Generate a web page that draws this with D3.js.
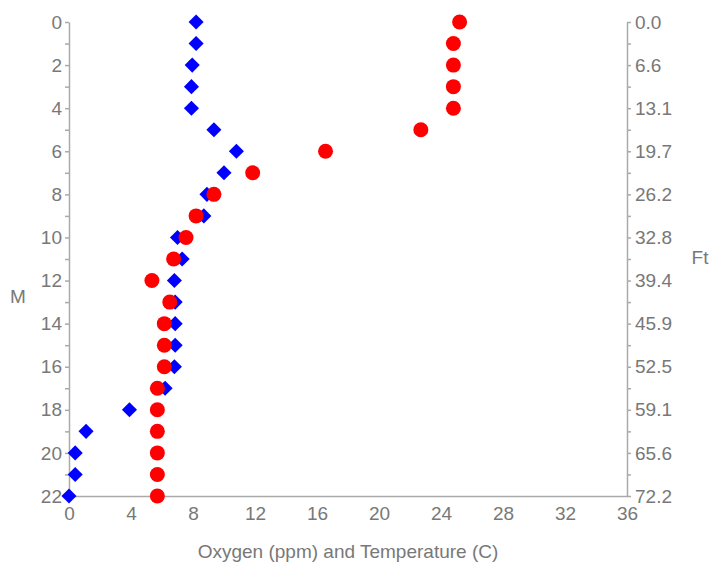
<!DOCTYPE html>
<html>
<head>
<meta charset="utf-8">
<script src="https://cdn.jsdelivr.net/npm/d3@7"></script>
<style>
  body { margin: 0; background: #fff; }
  .axis text { font-family: "Liberation Sans", Arial, sans-serif; font-size: 19px; fill: #787878; }
  .axis path, .axis line { stroke: #aaa; stroke-width: 1.5; }
  .label { font-family: "Liberation Sans", Arial, sans-serif; font-size: 19px; fill: #787878; }
</style>
</head>
<body>
<div id="chart"></div>
<script>
// depth in metres, one reading per metre
const depths = d3.range(0, 23);
const oxygen = [8.2, 8.2, 7.95, 7.9, 7.9, 9.35, 10.8, 10.0, 8.9, 8.7, 7.0, 7.3, 6.8, 6.85, 6.85, 6.85, 6.8, 6.2, 3.9, 1.1, 0.4, 0.4, 0.0];
const temperature = [25.2, 24.8, 24.8, 24.8, 24.8, 22.7, 16.55, 11.85, 9.35, 8.2, 7.55, 6.75, 5.35, 6.5, 6.15, 6.15, 6.15, 5.7, 5.7, 5.7, 5.7, 5.7, 5.7];
const xTicks = [0, 4, 8, 12, 16, 20, 24, 28, 32, 36];
const FT_PER_M = 3.28084;

const width = 713, height = 566;
const margin = { top: 22, right: 86, bottom: 70, left: 69 };

const svg = d3.select("#chart").append("svg")
  .attr("width", width)
  .attr("height", height);

const x = d3.scaleLinear().domain([0, 36]).range([margin.left, width - margin.right]);
const y = d3.scaleLinear().domain([0, 22]).range([margin.top, height - margin.bottom]);

// bottom axis, labels only
svg.append("g")
  .attr("class", "axis")
  .attr("transform", `translate(0,${y(22)})`)
  .call(d3.axisBottom(x).tickValues(xTicks).tickSize(0).tickPadding(11));

// left axis in metres
svg.append("g")
  .attr("class", "axis")
  .attr("transform", `translate(${x(0)},0)`)
  .call(d3.axisLeft(y).tickValues(depths).tickSize(4).tickSizeOuter(0).tickPadding(3)
    .tickFormat(d => d % 2 === 0 ? d : ""));

// right axis in feet
svg.append("g")
  .attr("class", "axis")
  .attr("transform", `translate(${x(36)},0)`)
  .call(d3.axisRight(y).tickValues(depths).tickSize(4).tickSizeOuter(0).tickPadding(4)
    .tickFormat(d => d % 2 === 0 ? (d * FT_PER_M).toFixed(1) : ""));

svg.append("text").attr("class", "label")
  .attr("x", (x(0) + x(36)) / 2).attr("y", 558)
  .attr("text-anchor", "middle")
  .text("Oxygen (ppm) and Temperature (C)");

svg.append("text").attr("class", "label")
  .attr("x", 18).attr("y", 303)
  .attr("text-anchor", "middle")
  .text("M");

svg.append("text").attr("class", "label")
  .attr("x", 700).attr("y", 264)
  .attr("text-anchor", "middle")
  .text("Ft");

// oxygen diamonds
svg.append("g").selectAll("path")
  .data(depths)
  .enter()
  .append("path")
  .attr("d", d3.symbol().type(d3.symbolDiamond2).size(145))
  .attr("transform", (d, i) => `translate(${x(oxygen[i])},${y(d)})`)
  .attr("fill", "#0000ff");

// temperature circles
svg.append("g").selectAll("circle")
  .data(depths)
  .enter()
  .append("circle")
  .attr("cx", (d, i) => x(temperature[i]))
  .attr("cy", d => y(d))
  .attr("r", 7.5)
  .attr("fill", "#ff0000");
</script>
</body>
</html>
